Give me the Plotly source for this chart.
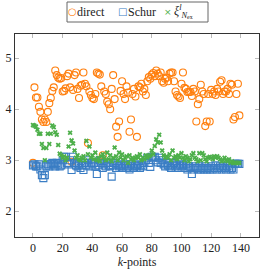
import plotly.graph_objects as go

k = list(range(140))

direct = [
    2.95, 4.43, 4.23, 4.23, 4.05, 3.95, 3.80, 3.75, 3.80, 3.75,
    3.95, 4.12, 4.22, 4.36, 4.43, 4.76, 4.67, 4.62, 4.60, 4.61,
    4.35, 4.36, 4.41, 4.65, 4.70, 4.43, 2.97, 4.38, 4.67, 4.72,
    4.40, 4.22, 4.46, 4.48, 4.72, 4.50, 4.45, 3.34, 4.35, 4.28,
    4.22, 4.20, 4.30, 4.72, 4.70, 4.68, 4.45, 3.10, 4.35, 4.30,
    4.15, 4.10, 4.00, 4.40, 4.67, 4.20, 3.66, 3.46, 3.76, 4.36,
    4.55, 4.30, 4.20, 4.45, 4.33, 3.56, 3.80, 4.30, 4.40, 4.25,
    3.46, 4.45, 4.43, 4.50, 4.35, 4.40, 4.28, 4.55, 4.63, 4.60,
    4.68, 4.71, 4.65, 4.76, 4.70, 4.65, 4.72, 4.55, 4.52, 4.60,
    4.62, 4.55, 4.70, 4.72, 4.72, 4.55, 4.35, 4.28, 4.25, 4.22,
    4.50, 4.72, 4.42, 4.40, 4.34, 4.34, 4.34, 4.26, 4.40, 4.35,
    3.76, 4.10, 4.20, 4.48, 4.35, 4.30, 3.67, 3.76, 4.30, 3.76,
    4.38, 4.30, 4.35, 4.28, 4.40, 4.35, 4.54, 4.57, 4.30, 4.35,
    4.35, 4.40, 4.30, 4.50, 4.48, 3.80, 3.85, 4.30, 4.50, 3.88,
]

schur = [
    2.90, 2.92, 2.88, 2.88, 2.92, 2.82, 2.71, 2.65, 2.71, 2.88,
    2.92, 2.88, 2.92, 2.95, 2.92, 2.88, 2.95, 2.92, 2.88, 2.90,
    3.00, 3.07, 3.07, 2.95, 2.92, 3.00, 2.81, 3.07, 2.95, 2.90,
    2.88, 2.92, 2.85, 2.90, 2.81, 2.95, 2.90, 3.00, 2.88, 2.95,
    2.92, 2.95, 2.88, 2.73, 2.90, 3.00, 2.95, 2.85, 2.92, 2.88,
    2.95, 2.90, 2.88, 2.68, 2.90, 2.95, 2.85, 2.92, 2.88, 2.90,
    2.85, 2.88, 2.92, 2.85, 2.88, 2.82, 2.92, 2.88, 2.85, 2.90,
    2.88, 2.92, 2.85, 2.90, 2.88, 2.95, 3.00, 3.05, 2.95, 2.87,
    3.07, 3.05, 3.07, 3.00, 2.96, 3.05, 2.95, 3.00, 2.92, 2.88,
    2.95, 2.90, 2.88, 2.85, 2.92, 2.95, 2.88, 2.90, 2.85, 2.92,
    2.88, 2.90, 2.85, 2.92, 2.82, 2.88, 2.85, 2.73, 2.82, 2.88,
    2.85, 2.82, 2.88, 2.82, 2.85, 2.82, 2.88, 2.82, 2.85, 2.82,
    2.88, 2.82, 2.85, 2.90, 2.82, 2.85, 2.88, 2.82, 2.88, 2.85,
    2.82, 2.88, 2.85, 2.82, 2.85, 2.82, 2.93, 2.93, 2.93, 2.93,
]

xi = [
    3.69, 3.68, 3.66, 3.60, 3.52, 3.52, 3.32, 3.24, 3.00, 3.24,
    3.52, 3.32, 3.52, 3.68, 3.65, 3.55, 3.50, 3.30, 3.13, 3.10,
    3.05, 3.08, 3.00, 3.05, 3.27, 3.54, 3.39, 3.33, 3.19, 3.05,
    3.10, 3.02, 3.00, 3.05, 3.08, 3.00, 3.38, 3.12, 3.27, 3.05,
    3.10, 3.02, 3.15, 3.00, 3.05, 2.98, 3.08, 3.12, 3.05, 3.00,
    3.15, 3.02, 3.10, 2.98, 3.05, 3.25, 3.08, 3.00, 3.15, 3.05,
    3.12, 3.00, 3.05, 3.08, 2.95, 3.10, 3.02, 3.05, 3.00, 3.05,
    3.08, 3.05, 3.12, 3.00, 3.05, 3.02, 3.10, 3.05, 3.08, 3.10,
    3.19, 3.12, 3.28, 3.41, 3.35, 3.50, 3.35, 3.19, 3.10, 3.05,
    3.08, 3.05, 3.12, 3.00, 3.19, 3.05, 3.08, 3.02, 3.10, 3.05,
    3.14, 3.05, 3.00, 3.08, 3.05, 2.98, 3.02, 3.10, 3.14, 3.05,
    3.02, 2.98, 3.14, 3.00, 3.14, 3.10, 3.02, 2.98, 3.05, 3.07,
    3.05, 3.02, 3.08, 3.05, 3.08, 3.05, 3.02, 2.98, 3.00, 3.05,
    3.00, 2.98, 3.02, 2.95, 2.98, 2.95, 2.95, 2.95, 2.95, 2.95,
]

x_ticks = [0, 20, 40, 60, 80, 100, 120, 140]
y_ticks = [2, 3, 4, 5]
legend_names = ["direct", "Schur",
                "<i>ξ</i><sup><i>l</i></sup><sub><i>N</i><sub>ex</sub></sub>"]

ORANGE = "#FF7F0E"
BLUE = "#3A7DC4"
GREEN = "#4DAF4A"
FONT = "Liberation Serif, DejaVu Serif, Times New Roman, serif"

fig = go.Figure()
fig.add_trace(go.Scatter(
    x=k, y=direct, mode="markers", name=legend_names[0], showlegend=False,
    marker=dict(symbol="circle-open", size=7, color=ORANGE, line=dict(width=1.1)),
))
fig.add_trace(go.Scatter(
    x=k, y=schur, mode="markers", name=legend_names[1], showlegend=False,
    marker=dict(symbol="square-open", size=7, color=BLUE, line=dict(width=1.1)),
))
fig.add_trace(go.Scatter(
    x=k, y=xi, mode="markers", name=legend_names[2], showlegend=False,
    marker=dict(symbol="x", size=4.5, color=GREEN, line=dict(width=0)),
))

axis_common = dict(
    showgrid=False, zeroline=False, showline=True, linecolor="#333",
    linewidth=1, mirror="allticks", ticks="inside", ticklen=4,
    tickcolor="#bbb", tickwidth=1,
    tickfont=dict(family=FONT, size=12, color="#222"),
)

# legend drawn as a box with symbol + label annotations (paper coordinates)
L, B, W, H = 15, 37, 244, 203   # plot area in px (left, bottom margin, width, height)
def px_x(p):
    return (p - L) / W
def px_y(p):
    return (274 - B - p) / H

shapes = [dict(type="rect", xref="paper", yref="paper",
               x0=px_x(67), x1=px_x(208), y0=px_y(22), y1=px_y(2),
               line=dict(color="#666", width=1), fillcolor="white")]

annotations = []
sym_specs = [("○", ORANGE, 72, 10), ("□", BLUE, 122, 10), ("×", GREEN, 168, 9)]
text_left = [75, 126, 172]
for (sym, col, sx, fs), name, tx in zip(sym_specs, legend_names, text_left):
    annotations.append(dict(xref="paper", yref="paper", x=px_x(sx), y=px_y(12),
                            text=sym, showarrow=False, xanchor="center",
                            yanchor="middle",
                            font=dict(family="DejaVu Sans", size=fs, color=col)))
    annotations.append(dict(xref="paper", yref="paper", x=px_x(tx), y=px_y(12),
                            text=name, showarrow=False, xanchor="left",
                            yanchor="middle",
                            font=dict(family=FONT, size=12, color="#222")))

fig.update_layout(
    width=261, height=274,
    margin=dict(l=L, r=2, t=34, b=B, autoexpand=False),
    paper_bgcolor="white", plot_bgcolor="white",
    font=dict(family=FONT, size=12, color="#222"),
    xaxis=dict(range=[-12.1, 152.2], tickvals=x_ticks,
               title=dict(text="<i>k</i>-points", standoff=2,
                          font=dict(family=FONT, size=12)),
               **axis_common),
    yaxis=dict(range=[1.496, 5.476], tickvals=y_ticks, **axis_common),
    shapes=shapes,
    annotations=annotations,
    showlegend=False,
)

fig.write_html("out.html",
               config={"displayModeBar": False, "displaylogo": False},
               post_script="document.body.style.margin='0';document.body.style.overflow='hidden';")
